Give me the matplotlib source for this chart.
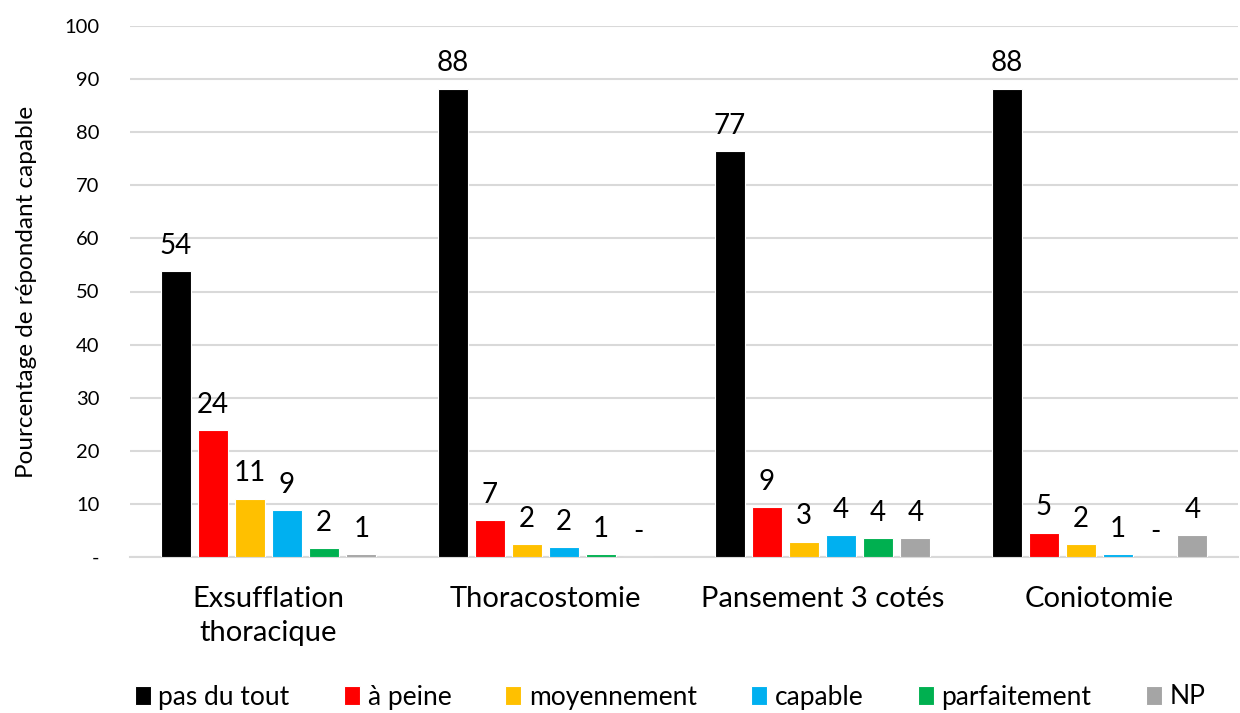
import numpy as np
import matplotlib
matplotlib.use("Agg")
import matplotlib.pyplot as plt

plt.rcParams['font.family'] = ['Lato', 'DejaVu Sans']

# data
categories = ["Exsufflation\nthoracique", "Thoracostomie", "Pansement 3 cotés", "Coniotomie"]
series_names = ["pas du tout", "à peine", "moyennement", "capable", "parfaitement", "NP"]
pas_du_tout = [53.8, 88.2, 76.5, 88.2]
a_peine = [23.9, 7.0, 9.4, 4.6]
moyennement = [11.0, 2.4, 2.9, 2.4]
capable = [8.8, 1.8, 4.1, 0.6]
parfaitement = [1.7, 0.6, 3.5, 0.0]
np_values = [0.6, 0.0, 3.5, 4.1]
colors = ["#000000", "#FF0000", "#FFC000", "#00B0F0", "#00B050", "#A5A5A5"]
yticks = [0, 10, 20, 30, 40, 50, 60, 70, 80, 90, 100]
ytick_labels = ["-"] + [str(t) for t in yticks[1:]]

all_series = [pas_du_tout, a_peine, moyennement, capable, parfaitement, np_values]


def fmt(v):
    # zero values are shown as a dash, like the y axis
    if v == 0:
        return "-"
    return str(int(v + 0.5))


fig = plt.figure(figsize=(12.4, 7.13), dpi=100)
ax = fig.add_axes([130 / 1240, 1 - 557 / 713, 1 - 130 / 1240 - 2 / 1240, (557 - 26) / 713])

x = np.arange(len(categories))
pitch = 0.134
width = 0.108
for i, (name, vals) in enumerate(zip(series_names, all_series)):
    pos = x + (i - 2.5) * pitch
    ax.bar(pos, vals, width=width, color=colors[i], edgecolor="white", linewidth=0.8,
           label=name, zorder=3)
    for px, v in zip(pos, vals):
        ax.text(px, v + 2.3, fmt(v), ha="center", va="bottom", fontsize=20, zorder=4)

ax.set_xlim(-0.5, len(categories) - 0.5)
ax.set_ylim(0, 100)
ax.set_yticks(yticks)
ax.set_yticklabels(ytick_labels, fontsize=14.5)
ax.set_xticks(x)
ax.set_xticklabels(categories, fontsize=21, linespacing=1.35)
ax.tick_params(axis="y", length=0, pad=22)
ax.tick_params(axis="x", length=0, pad=21)
ax.grid(axis="y", color="#D9D9D9", linewidth=1.5, zorder=0)
for s in ["top", "right", "left"]:
    ax.spines[s].set_visible(False)
ax.spines["bottom"].set_color("#D9D9D9")
ax.spines["bottom"].set_linewidth(1.5)
ax.set_ylabel("Pourcentage de répondant capable", fontsize=17.5, labelpad=20)

fig.legend(loc="center", bbox_to_anchor=(670 / 1240, 1 - 697 / 713), ncol=6,
           frameon=False, fontsize=19, handlelength=0.6, handleheight=0.7,
           handletextpad=0.3, columnspacing=2.05)

fig.savefig("out.png", dpi=100)
plt.close(fig)
